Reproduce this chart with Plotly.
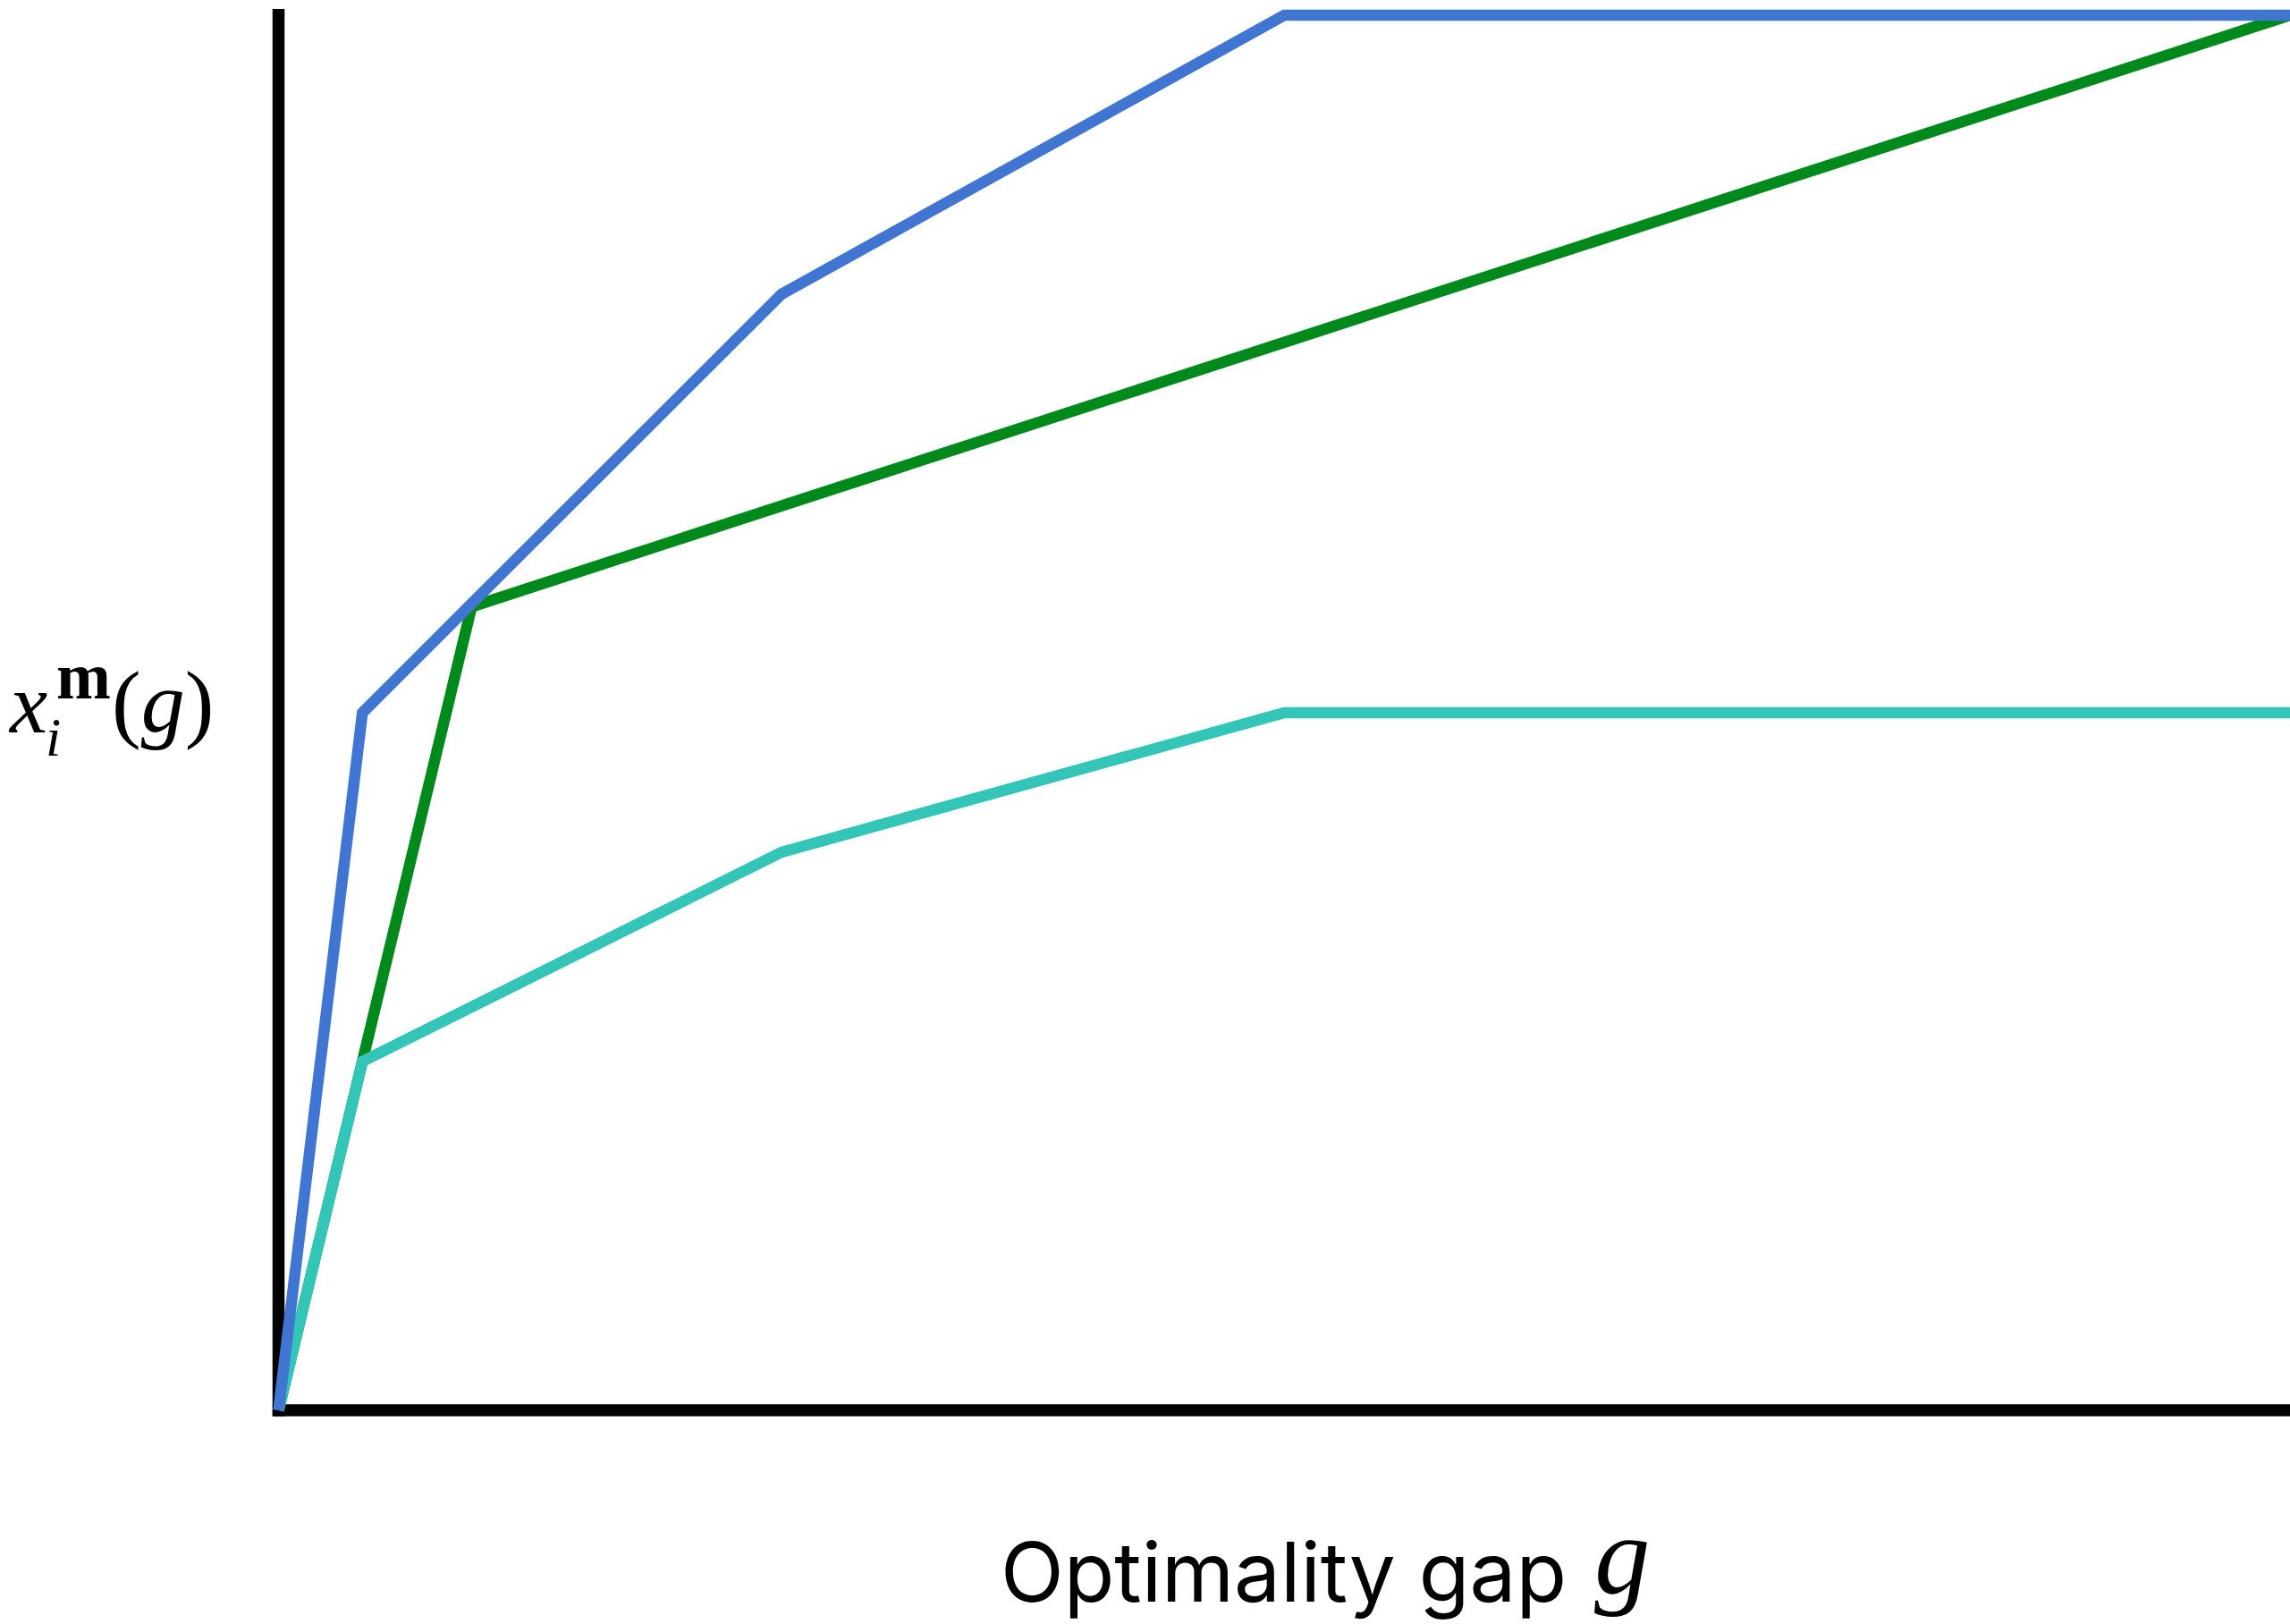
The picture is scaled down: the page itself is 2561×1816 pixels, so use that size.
import plotly.graph_objects as go

# ---- data ----
gap_blue = [0, 0.0417, 0.25, 0.5, 1.0]
val_blue = [0, 0.50, 0.80, 1.0, 1.0]

gap_green = [0, 0.096, 1.0]
val_green = [0, 0.576, 1.0]

gap_teal = [0, 0.0417, 0.25, 0.5, 1.0]
val_teal = [0, 0.25, 0.40, 0.50, 0.50]

x_label = "Optimality gap"

W, H = 2561, 1816
X0_PX, X1_PX = 311.5, 2561.0   # pixel of gap 0 and gap 1
Y0_PX, Y1_PX = 1577.0, 17.0    # pixel of value 0 and value 1
sx = (X1_PX - X0_PX)
sy = (Y0_PX - Y1_PX)
x_range = [-X0_PX / sx, 1.0 + (W - X1_PX) / sx]
y_range = [-(H - Y0_PX) / sy, 1.0 + Y1_PX / sy]

BLUE = "#4175D2"
GREEN = "#018A1C"
TEAL = "#33C5B8"
LW = 12.5

fig = go.Figure()
fig.add_trace(go.Scatter(x=gap_green, y=val_green, mode="lines",
                         line=dict(color=GREEN, width=LW), hoverinfo="skip"))
fig.add_trace(go.Scatter(x=gap_teal, y=val_teal, mode="lines",
                         line=dict(color=TEAL, width=LW), hoverinfo="skip"))
fig.add_trace(go.Scatter(x=gap_blue, y=val_blue, mode="lines",
                         line=dict(color=BLUE, width=LW), hoverinfo="skip"))

AX_W = 13.5
hx = (AX_W / 2) / sx
hy = (AX_W / 2) / sy
# axes lines
fig.add_shape(type="line", xref="x", yref="y", layer="below",
              x0=0, x1=0, y0=-hy, y1=1.0 + 7 / sy,
              line=dict(color="black", width=AX_W))
fig.add_shape(type="line", xref="x", yref="y", layer="below",
              x0=-hx, x1=x_range[1], y0=0, y1=0,
              line=dict(color="black", width=AX_W))

SERIF = "Liberation Serif, Times New Roman, serif"
SANS = "Inter, Liberation Sans, sans-serif"


def ann(text, px, py_center, size, family, xanchor="left"):
    fig.add_annotation(text=text, xref="paper", yref="paper",
                       x=px / W, y=1 - py_center / H,
                       xanchor=xanchor, yanchor="middle", showarrow=False,
                       font=dict(size=size, family=family, color="black"))


# y-axis label  x_i^m(g)
ann("<i>x</i>", 7, 819 - 0.3375 * 95, 95, SERIF)
ann("<i>i</i>", 49, 845 - 0.3375 * 62, 62, SERIF)
ann("<b>m</b>", 61, 781 - 0.3375 * 73, 73, SERIF)
ann("(<i>g</i>)", 123, 818 - 0.3375 * 98, 98, SERIF)

# x-axis label
ann(x_label, 1117, 1791 - 0.3635 * 92.5, 92.5, SANS)
ann("<i>g</i>", 1781, 1781 - 0.3375 * 125, 125, SERIF)

fig.update_xaxes(range=x_range, showgrid=False, zeroline=False, showline=False,
                 showticklabels=False, ticks="", fixedrange=True)
fig.update_yaxes(range=y_range, showgrid=False, zeroline=False, showline=False,
                 showticklabels=False, ticks="", fixedrange=True)
fig.update_layout(width=W, height=H, margin=dict(l=0, r=0, t=0, b=0, pad=0),
                  paper_bgcolor="white", plot_bgcolor="white", showlegend=False)

fig.write_html("out.html", config={"displayModeBar": False},
               post_script="document.body.style.margin='0';"
                           "document.body.style.overflow='hidden';")
